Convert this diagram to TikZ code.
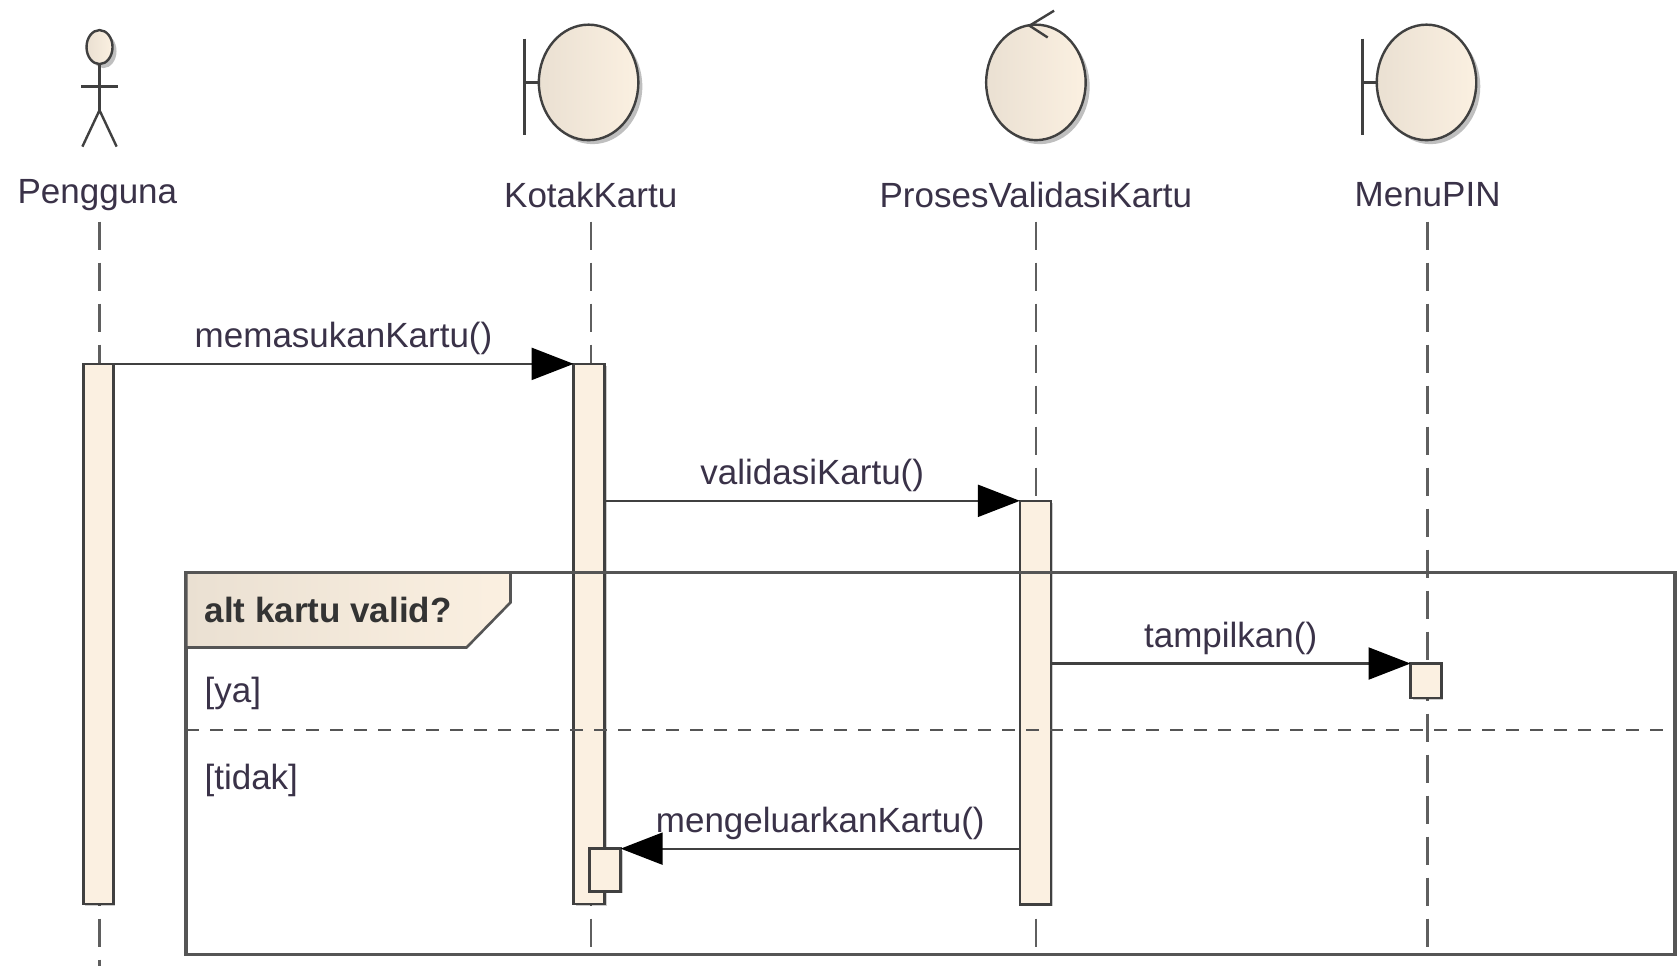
\documentclass[tikz,border=0pt]{standalone}
\usepackage{fontspec}
\setmainfont{Liberation Sans}
\usetikzlibrary{arrows.meta,shadows,shapes.geometric,calc}
\definecolor{fillc}{RGB}{251,240,225}
\definecolor{filld}{RGB}{234,224,210}
\definecolor{edgec}{RGB}{64,64,64}
\definecolor{txt}{RGB}{58,50,72}
\definecolor{framec}{RGB}{85,85,85}
\definecolor{lifec}{RGB}{95,95,95}
\begin{document}
\begin{tikzpicture}[x=1.0702pt,y=-1.0702pt,
  lbl/.style={font=\fontsize{35}{40}\selectfont, text=txt, inner sep=0pt},
  fraglbl/.style={font=\fontsize{35}{40}\selectfont\bfseries, text=black!80, inner sep=0pt, anchor=base west},
  guard/.style={font=\fontsize{35}{40}\selectfont, text=txt, inner sep=0pt, anchor=base west},
  shade/.style={drop shadow={shadow xshift=4pt, shadow yshift=-4pt, fill=black, opacity=.25}},
  headshape/.style={ellipse, draw=edgec, line width=2.4pt, left color=filld, right color=fillc, shade, inner sep=0pt},
  act/.style={draw=edgec, fill=fillc, line width=2.4pt, inner sep=0pt, outer sep=0pt, minimum width=31pt,
    drop shadow={shadow xshift=2pt, shadow yshift=-2pt, fill=black, opacity=.2}},
  msg/.style={draw=edgec, line width=2.2pt, -{Triangle[length=42pt,width=32pt,fill=black,color=black]}},
  msglbl/.style={lbl, anchor=base, yshift=16pt},
  lifeline/.style={draw=lifec, line width=2.4pt, dash pattern=on 28pt off 13pt},
  symline/.style={draw=edgec, line width=2.4pt},
  framestyle/.style={draw=framec, line width=3.6pt},
  sep/.style={draw=framec, line width=2.6pt, dash pattern=on 13pt off 11pt}]
\useasboundingbox (0,0) rectangle (1568,902.6);
\fill[white] (0,0) rectangle (1568,902.6);

% coordinates for lifeline ends
\coordinate (top) at (0,207);
\coordinate (bot) at (0,892);

% ---- heads ----
% actor
\node[headshape, minimum width=26pt, minimum height=34pt] (hP) at (93,44) {};
\coordinate (hip) at (93,103);
\draw[symline] (hP.south) -- (hip);
\draw[symline] (76,81) -- (110,81);
\draw[symline] (77,137) -- (hip) -- (109,137);
% boundary KotakKartu
\node[headshape, minimum width=99.5pt, minimum height=115.5pt] (hK) at (550,77) {};
\draw[symline] (490,36) -- (490,126);
\draw[symline] (490,77) -- (hK.west);
% control ProsesValidasiKartu
\node[headshape, minimum width=99.5pt, minimum height=115.5pt] (hV) at (968,77) {};
\draw[symline] (985,10) -- (962,24) -- (979,35);
% boundary MenuPIN
\node[headshape, minimum width=99.5pt, minimum height=115.5pt] (hM) at (1333,77) {};
\draw[symline] (1273,36) -- (1273,126);
\draw[symline] (1273,77) -- (hM.west);

% labels
\node[lbl] (lP) at (91,182) {Pengguna};
\node[lbl] (lK) at (552,182) {KotakKartu};
\node[lbl] (lV) at (968,182) {ProsesValidasiKartu};
\node[lbl] (lM) at (1334,182) {MenuPIN};

% lifelines
\draw[lifeline] (93,207) -- (93,903);
\draw[lifeline] (lK |- top) -- (lK |- bot);
\draw[lifeline] (lV |- top) -- (lV |- bot);
\draw[lifeline] (lM |- top) -- (lM |- bot);

% activations
\node[act, minimum width=30pt, minimum height=540.4pt] (aP) at (92,592.5) {};
\node[act, minimum height=540.4pt] (aK) at (550.5,592.5) {};
\node[act, minimum height=403.5pt] (aV) at (967.5,656.5) {};
\node[act, minimum height=34.2pt] (aM) at (1332.5,636) {};
\node[act, minimum height=42.8pt] (aK2) at (565.5,813) {};

% messages
\draw[msg] (aP.north east) -- node[msglbl] {memasukanKartu()} (aK.north west);
\draw[msg] (aK.east |- aV.north) -- node[msglbl] {validasiKartu()} (aV.north west);
\draw[msg] (aV.east |- aM.north) -- node[msglbl] {tampilkan()} (aM.north west);
\draw[msg] (aV.west |- aK2.north) -- node[msglbl] {mengeluarkanKartu()} (aK2.north east);

% combined fragment
\draw[framestyle] (174,535) rectangle (1565,892);
\draw[sep] (174,682) -- (1565,682);
\draw[framestyle, line width=2.6pt, left color=filld, right color=fillc]
  (174,535) -- (477,535) -- (477,563) -- (436,605) -- (174,605) -- cycle;
\node[fraglbl] (fragt) at (191,582) {alt kartu valid?};
\node[guard] (gya) at (191,656) {[ya]};
\node[guard] (gtidak) at (191,738) {[tidak]};
\end{tikzpicture}
\end{document}
